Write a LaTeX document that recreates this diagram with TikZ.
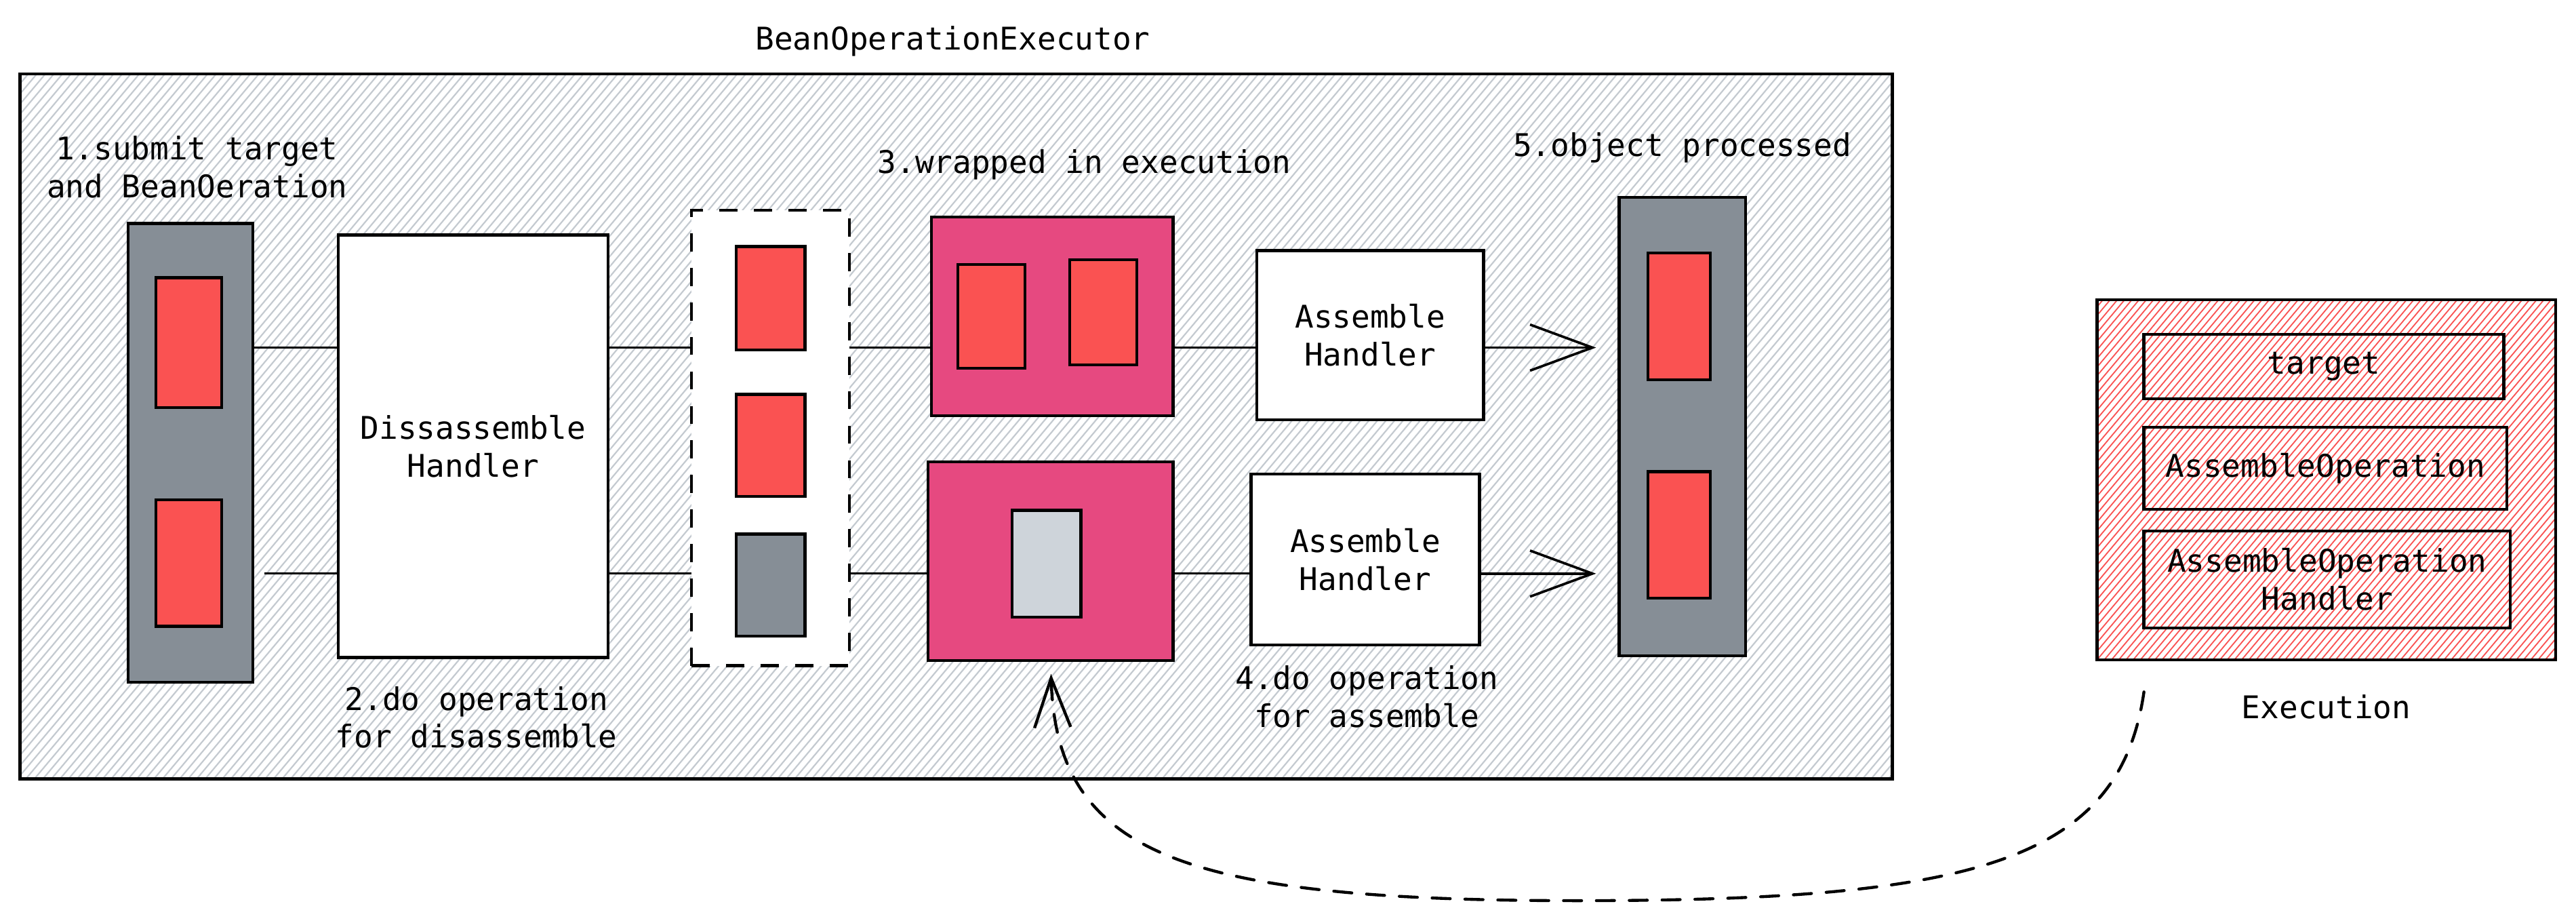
\documentclass[tikz,border=0pt]{standalone}
\usepackage{fontspec}
\newfontfamily\codefont{DejaVu Sans Mono}
\usetikzlibrary{arrows.meta}
\definecolor{colgray}{HTML}{868E96}
\definecolor{boxred}{HTML}{FA5252}
\definecolor{boxpink}{HTML}{E64980}
\definecolor{lightgray}{HTML}{CED4DA}
\definecolor{hatchgray}{HTML}{C4CAD0}
\definecolor{hatchred}{HTML}{FA5252}
\newcommand\hatchrect[6]{%
  \begin{scope}
    \clip (#1,#2) rectangle (#3,#4);
    \pgfmathsetmacro\hhh{#4-#2}
    \pgfmathsetmacro\hdx{\hhh*0.84}
    \pgfmathtruncatemacro\hnn{(#3-#1+\hdx)/#6+1}
    \foreach \i in {0,...,\hnn}{%
      \draw[#5] ({#1-\hdx+\i*#6},#4) -- ++(\hdx,-\hhh);
    }
  \end{scope}}
\begin{document}
\begin{tikzpicture}[x=1pt,y=-1pt,
  box/.style={draw=black, line width=1.8pt, inner sep=0pt, outer sep=0pt},
  lbl/.style={font=\codefont\fontsize{19}{23}\selectfont, align=center, inner sep=0pt},
  conn/.style={line width=1.4pt},
  bigarrow/.style={line width=1.5pt, -{Straight Barb[length=38pt,width=28pt,line width=1.5pt]}},
  dashlink/.style={line width=1.8pt, dash pattern=on 11pt off 9pt, line cap=round,
     -{Straight Barb[length=30pt,width=22pt,line width=1.8pt]}}
]
\fill[white] (0,0) rectangle (1568,561.2);
\useasboundingbox (0,0) rectangle (1568,561.2);

% title
\node[lbl] (title) at (580,25) {BeanOperationExecutor};

% outer box with hatch
\hatchrect{12}{45}{1152}{474}{hatchgray, line width=0.9pt}{5.2}
\node[box, line width=2pt, minimum width=1140pt, minimum height=429pt] (outer) at (582,259.5) {};

% row levels
\coordinate (rowA) at (0,211.5);
\coordinate (rowB) at (0,349);

% left column
\node[box, fill=colgray, minimum width=76pt, minimum height=279pt] (col1) at (116,275.5) {};
\node[box, fill=boxred, minimum width=40pt, minimum height=79pt] (col1r1) at (115,208.5) {};
\node[box, fill=boxred, minimum width=40pt, minimum height=77pt] (col1r2) at (115,342.5) {};
\node[lbl] (lab1) at (120,101.5) {1.submit target\\and BeanOeration};

% disassemble handler
\node[box, fill=white, minimum width=164pt, minimum height=257pt, lbl] (dis) at (288,271.5) {Dissassemble\\Handler};
\node[lbl] (lab2) at (290,436.5) {2.do operation\\for disassemble};

% dashed box
\node[box, fill=white, dash pattern=on 11pt off 10pt, minimum width=96pt, minimum height=277pt] (dbox) at (469,266.5) {};
\node[box, fill=boxred, minimum width=42pt, minimum height=63pt] (d1) at (469,181.5) {};
\node[box, fill=boxred, minimum width=42pt, minimum height=62pt] (d2) at (469,271) {};
\node[box, fill=colgray, minimum width=42pt, minimum height=62pt] (d3) at (469,356) {};

% pink execution boxes
\node[lbl] (lab3) at (660,100) {3.wrapped in execution};
\node[box, fill=boxpink, minimum width=147pt, minimum height=121pt] (pk1) at (640.5,192.5) {};
\node[box, fill=boxred, minimum width=41pt, minimum height=63pt] (pk1a) at (603.5,192.5) {};
\node[box, fill=boxred, minimum width=41pt, minimum height=64pt] (pk1b) at (671.5,190) {};
\node[box, fill=boxpink, minimum width=149pt, minimum height=121pt] (pk2) at (639.5,341.5) {};
\node[box, fill=lightgray, minimum width=42pt, minimum height=65pt] (pk2a) at (637,343) {};

% assemble handlers
\node[box, fill=white, minimum width=138pt, minimum height=103pt, lbl] (ah1) at (834,204) {Assemble\\Handler};
\node[box, fill=white, minimum width=139pt, minimum height=104pt, lbl] (ah2) at (831,340.5) {Assemble\\Handler};
\node[lbl] (lab4) at (832,424) {4.do operation\\for assemble};

% right column
\node[lbl] (lab5) at (1024,90) {5.object processed};
\node[box, fill=colgray, minimum width=77pt, minimum height=279pt] (col2) at (1024,259.5) {};
\node[box, fill=boxred, minimum width=38pt, minimum height=77pt] (col2r1) at (1022,192.5) {};
\node[box, fill=boxred, minimum width=38pt, minimum height=77pt] (col2r2) at (1022,325.5) {};

% execution legend
\hatchrect{1276}{182}{1556}{402}{hatchred, line width=0.75pt}{4.4}
\node[box, minimum width=279pt, minimum height=219pt] (exec) at (1416,292) {};
\node[box, lbl, minimum width=219pt, minimum height=39pt] (e1) at (1414.5,223) {target};
\node[box, lbl, minimum width=221pt, minimum height=50pt] (e2) at (1415.5,285) {AssembleOperation};
\node[box, lbl, minimum width=223pt, minimum height=59pt] (e3) at (1416.5,352.5) {AssembleOperation\\Handler};
\node[lbl] (labx) at (1416,430) {Execution};

% connectors
\draw[conn] (col1.east |- rowA) -- (dis.west |- rowA);
\draw[conn, shorten <=7pt] (col1.east |- rowB) -- (dis.west |- rowB);
\draw[conn] (dis.east |- rowA) -- (dbox.west |- rowA);
\draw[conn] (dis.east |- rowB) -- (dbox.west |- rowB);
\draw[conn] (dbox.east |- rowA) -- (pk1.west |- rowA);
\draw[conn] (dbox.east |- rowB) -- (pk2.west |- rowB);
\draw[conn] (pk1.east |- rowA) -- (ah1.west |- rowA);
\draw[conn] (pk2.east |- rowB) -- (ah2.west |- rowB);
\draw[bigarrow, shorten >=14pt] (ah1.east |- rowA) -- (col2.west |- rowA);
\draw[bigarrow, shorten >=14pt] (ah2.east |- rowB) -- (col2.west |- rowB);

% dashed link from execution legend
\coordinate (xstart) at (1305,421);
\draw[dashlink, shorten >=8pt] (xstart) .. controls (1290,525) and (1200,548) .. (960,548)
   .. controls (720,548) and (643,520) .. (pk2.south);
\end{tikzpicture}
\end{document}
